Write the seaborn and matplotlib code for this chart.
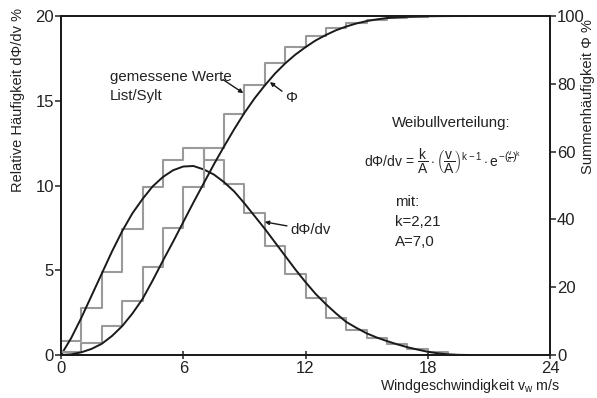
import numpy as np
import pandas as pd
import matplotlib
matplotlib.use("Agg")
import matplotlib.pyplot as plt
from matplotlib import font_manager as fm
import seaborn as sns

# Measured relative frequency per 1 m/s wind speed class (List/Sylt), in %
class_edges = list(range(0, 21))
measured_freq = [0.83, 2.79, 4.92, 7.41, 9.93, 11.5, 12.2, 11.5, 10.1, 8.36,
                 6.45, 4.78, 3.38, 2.2, 1.47, 0.98, 0.63, 0.35, 0.2, 0.02]

# Weibull curves: wind speed (m/s), density dPhi/dv (%) and cumulative Phi (%)
v_curve = [0, 0.5, 1, 1.5, 2, 2.5, 3, 3.5, 4, 4.5, 5, 5.5, 6, 6.5, 7, 7.5, 8,
           8.5, 9, 9.5, 10, 10.5, 11, 11.5, 12, 12.5, 13, 13.5, 14, 14.5, 15,
           15.5, 16, 16.5, 17, 17.5, 18, 18.5, 19, 19.5, 20]
density_curve = [0, 1.0, 2.2, 3.5, 4.8, 6.1, 7.3, 8.35, 9.2, 9.95, 10.5, 10.9,
                 11.12, 11.15, 10.95, 10.65, 10.2, 9.65, 8.95, 8.2, 7.45, 6.65,
                 5.85, 5.05, 4.3, 3.6, 3.0, 2.45, 1.95, 1.6, 1.28, 1.03, 0.82,
                 0.63, 0.46, 0.32, 0.19, 0.1, 0.04, 0.01, 0]
cumulative_curve = [0, 0.2, 0.8, 1.8, 3.3, 5.6, 8.5, 12.2, 16.5, 22.0, 27.8,
                    33.4, 39.2, 45.0, 50.6, 56.2, 61.5, 66.6, 71.4, 75.7, 79.5,
                    83.0, 86.0, 88.6, 90.8, 92.8, 94.4, 95.8, 96.9, 97.8, 98.5,
                    99.0, 99.4, 99.6, 99.75, 99.85, 99.92, 99.96, 99.98, 100, 100]

left_ticks = [0, 5, 10, 15, 20]
right_ticks = [0, 20, 40, 60, 80, 100]
x_ticks = [0, 6, 12, 18, 24]


def narrow_family():
    """Pick the narrowest installed sans family available."""
    for fam in ["Liberation Sans Narrow", "DejaVu Sans Condensed"]:
        try:
            fm.findfont(fm.FontProperties(family=fam), fallback_to_default=False)
            return fam
        except ValueError:
            pass
    return "Liberation Sans"


FAM = narrow_family()

sns.set_style("ticks")
plt.rcParams["font.family"] = [FAM, "DejaVu Sans"]
plt.rcParams["mathtext.fontset"] = "custom"
plt.rcParams["mathtext.rm"] = FAM
plt.rcParams["mathtext.it"] = FAM
plt.rcParams["mathtext.bf"] = FAM

TXT = "#222222"
GREY = "#9a9a9a"
FS = 10.8

fig = plt.figure(figsize=(5.97, 3.98), dpi=100)
ax = fig.add_axes([61 / 597, 1 - 355 / 398, (550 - 61) / 597, (355 - 16) / 398])
ax2 = ax.twinx()

centers = [e + 0.5 for e in class_edges[:-1]]
meas = pd.DataFrame({"v": centers, "h": measured_freq})

# measured frequency histogram (left axis)
sns.histplot(data=meas, x="v", weights="h", bins=class_edges, element="step",
             fill=False, stat="count", color=GREY, linewidth=1.5, ax=ax)
# measured cumulative histogram (right axis)
sns.histplot(data=meas, x="v", weights="h", bins=class_edges, element="step",
             fill=False, stat="count", cumulative=True, color=GREY,
             linewidth=1.5, ax=ax2)

curves = pd.DataFrame({"v": v_curve, "f": density_curve, "F": cumulative_curve})
sns.lineplot(data=curves, x="v", y="f", color="#1a1a1a", linewidth=1.4, ax=ax)
sns.lineplot(data=curves, x="v", y="F", color="#1a1a1a", linewidth=1.4, ax=ax2)

ax.set_xlim(0, 24)
ax.set_ylim(0, 20)
ax2.set_ylim(0, 100)
ax.set_xticks(x_ticks)
ax.set_yticks(left_ticks)
ax2.set_yticks(right_ticks)
ax.set_xlabel("")
ax.set_ylabel("")
ax2.set_ylabel("")

for a in (ax, ax2):
    for s in a.spines.values():
        s.set_visible(True)
        s.set_color("#1a1a1a")
        s.set_linewidth(1.3)
ax.tick_params(axis="y", direction="out", length=4, width=1.1, labelsize=12,
               colors=TXT, pad=1)
ax.tick_params(axis="x", direction="inout", length=6, width=1.1, labelsize=12,
               colors=TXT, pad=1)
ax2.tick_params(axis="y", direction="out", length=4, width=1.1, labelsize=12,
                colors=TXT, pad=1)

# axis titles
fig.text(18 / 597, 1 - 100 / 398, "Relative Häufigkeit dΦ/dv %", rotation=90,
         ha="center", va="center", fontsize=10.5, color=TXT)
fig.text(588 / 597, 1 - 97 / 398, "Summenhäufigkeit Φ %", rotation=90,
         ha="center", va="center", fontsize=10.5, color=TXT)
fig.text(470 / 597, 1 - 386 / 398, "Windgeschwindigkeit v$_{w}$ m/s",
         ha="center", va="center", fontsize=10.3, color=TXT)

# annotations
ax.text(2.4, 16.4, "gemessene Werte", fontsize=FS, color=TXT, va="center")
ax.text(2.4, 15.3, "List/Sylt", fontsize=FS, color=TXT, va="center")
arrow = dict(arrowstyle="-|>", color="#1a1a1a", lw=1.0, mutation_scale=6,
             shrinkA=0, shrinkB=0)
ax.annotate("", xy=(8.95, 15.45), xytext=(7.95, 16.25), arrowprops=arrow)
ax.annotate("Φ", xy=(10.25, 16.1), xytext=(11.3, 15.15), fontsize=FS,
            color=TXT, ha="center", va="center", arrowprops=arrow)
ax.annotate("dΦ/dv", xy=(10.0, 7.85), xytext=(11.25, 7.37), fontsize=FS,
            color=TXT, ha="left", va="center", arrowprops=arrow)

ax.text(19.15, 13.7, "Weibullverteilung:", fontsize=FS, color=TXT,
        ha="center", va="center")
ax.text(18.75, 11.4,
        r"d$\Phi$/dv = $\dfrac{k}{A}\cdot\left(\dfrac{v}{A}\right)^{k-1}\cdot e^{-\left(\frac{v}{c}\right)^{k}}$",
        fontsize=10, color=TXT, ha="center", va="center")
ax.text(16.4, 9.05, "mit:", fontsize=FS, color=TXT, va="center")
ax.text(16.4, 7.85, "k=2,21", fontsize=FS, color=TXT, va="center")
ax.text(16.4, 6.65, "A=7,0", fontsize=FS, color=TXT, va="center")

fig.savefig("out.png", dpi=100)
